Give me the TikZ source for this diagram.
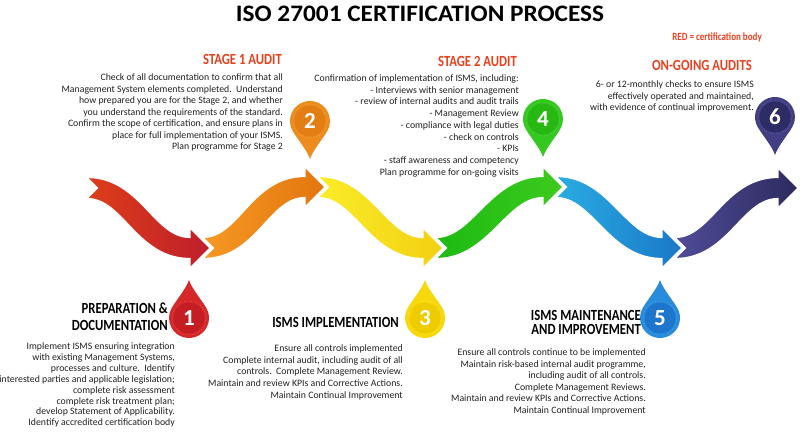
\documentclass[tikz,border=0pt]{standalone}
\usepackage{fontspec}
\usepackage{graphicx}
\setmainfont{Carlito}
\newfontfamily\headfont[FakeStretch=0.82]{Carlito}
\usetikzlibrary{calc}
\definecolor{headred}{RGB}{232,65,30}
\definecolor{bodygray}{RGB}{34,34,34}
\definecolor{aL1}{RGB}{222,62,26}\definecolor{aR1}{RGB}{190,30,42}
\definecolor{aL2}{RGB}{246,152,36}\definecolor{aR2}{RGB}{226,118,14}
\definecolor{aL3}{RGB}{250,236,40}\definecolor{aR3}{RGB}{242,208,18}
\definecolor{aL4}{RGB}{28,186,18}\definecolor{aR4}{RGB}{62,202,30}
\definecolor{aL5}{RGB}{42,172,226}\definecolor{aR5}{RGB}{26,120,200}
\definecolor{aL6}{RGB}{80,76,152}\definecolor{aR6}{RGB}{44,42,94}
\definecolor{pO1}{RGB}{214,40,40}\definecolor{pI1}{RGB}{196,30,36}
\definecolor{pO2}{RGB}{236,140,30}\definecolor{pI2}{RGB}{226,126,20}
\definecolor{pO3}{RGB}{246,216,12}\definecolor{pI3}{RGB}{238,204,0}
\definecolor{pO4}{RGB}{52,200,32}\definecolor{pI4}{RGB}{40,184,20}
\definecolor{pO5}{RGB}{40,140,220}\definecolor{pI5}{RGB}{30,118,204}
\definecolor{pO6}{RGB}{66,62,132}\definecolor{pI6}{RGB}{46,44,100}
% S-shaped arrow: name, tail x, tail y, head-base x, head-base y, left colour, right colour
\newcommand{\sarrow}[7]{%
  \coordinate (#1P1) at ({#2+45},#3);
  \coordinate (#1P2) at ({#4-45},#5);
  \coordinate (#1T0) at (#2,{#3-10.5});
  \coordinate (#1Ta) at ({#2+45},{#3-10.5});
  \coordinate (#1T3) at (#4,{#5-10.5});
  \coordinate (#1Tb) at ({#4-45},{#5-10.5});
  \coordinate (#1B0) at (#2,{#3+10.5});
  \coordinate (#1Ba) at ({#2+45},{#3+10.5});
  \coordinate (#1B3) at (#4,{#5+10.5});
  \coordinate (#1Bb) at ({#4-45},{#5+10.5});
  \coordinate (#1mta) at ($(#1P1)!10.5pt!90:(#1P2)$);
  \coordinate (#1mtb) at ($(#1P2)!10.5pt!-90:(#1P1)$);
  \coordinate (#1mba) at ($(#1P1)!10.5pt!-90:(#1P2)$);
  \coordinate (#1mbb) at ($(#1P2)!10.5pt!90:(#1P1)$);
  \coordinate (#1T1) at (intersection cs: first line={(#1T0)--(#1Ta)}, second line={(#1mta)--(#1mtb)});
  \coordinate (#1T2) at (intersection cs: first line={(#1T3)--(#1Tb)}, second line={(#1mta)--(#1mtb)});
  \coordinate (#1B1) at (intersection cs: first line={(#1B0)--(#1Ba)}, second line={(#1mba)--(#1mbb)});
  \coordinate (#1B2) at (intersection cs: first line={(#1B3)--(#1Bb)}, second line={(#1mba)--(#1mbb)});
  \path[left color=#6,right color=#7,draw=white,line width=1.2pt,line join=miter]
    (#1T0) .. controls (#1T1) and (#1T2) .. (#1T3) -- (#4,{#5-20}) -- ({#4+20},#5)
    -- (#4,{#5+20}) -- (#1B3) .. controls (#1B2) and (#1B1) .. (#1B0) -- ({#2+10.5},#3) -- cycle;
}
\newcommand{\pinpath}{(0,-38) .. controls (3,-29) and (12,-19) .. (-30:20)
  arc[start angle=-30,end angle=210,radius=20] .. controls (-12,-19) and (-3,-29) .. (0,-38) -- cycle}
% pin: name, x, y, rotation, outer, inner, number
\newcommand{\droppin}[7]{%
  \fill[#5,shift={(#2,#3)},rotate=#4] \pinpath;
  \fill[#6] (#2,#3) circle[radius=15.5];
  \draw[white,opacity=0.35,line width=0.5pt,dotted] (#2,#3) circle[radius=17];
  \node[pinnum] (#1) at (#2,#3) {#7};
}
\tikzset{
  pinnum/.style={text=white,font=\fontsize{23}{23}\selectfont\bfseries,inner sep=0pt},
  bodytxt/.style={font=\fontsize{9.8}{11.5}\selectfont,text=bodygray,align=right,inner sep=0pt,anchor=north east},
  stagehead/.style={font=\headfont\fontsize{15.5}{17}\selectfont\bfseries,text=headred,inner sep=0pt,anchor=east},
  blackhead/.style={font=\headfont\fontsize{15.5}{17}\selectfont\bfseries,text=black,inner sep=0pt,align=right}
}
\begin{document}
\begin{tikzpicture}[x=1pt,y=-1pt]
\useasboundingbox (0,0) rectangle (800,435);
\fill[white] (0,0) rectangle (800,435);
% title
\node[inner sep=0pt] (title) at (420,14) {\resizebox{368pt}{15.5pt}{\headfont\bfseries ISO 27001 CERTIFICATION PROCESS}};
\node[font=\headfont\fontsize{11}{12}\selectfont\bfseries,text=headred,inner sep=0pt,anchor=east] (legend) at (762,38) {RED = certification body};
% arrows
\sarrow{a}{87}{188}{190}{248}{aL1}{aR1}
\sarrow{b}{203}{248}{305}{187}{aL2}{aR2}
\sarrow{c}{318}{187}{423}{248}{aL3}{aR3}
\sarrow{d}{436}{248}{543}{187}{aL4}{aR4}
\sarrow{e}{556}{187}{662}{248}{aL5}{aR5}
\sarrow{f}{675}{248}{778}{188}{aL6}{aR6}
% pins
\droppin{p1}{189}{318}{0}{pO1}{pI1}{1}
\droppin{p2}{310}{121}{180}{pO2}{pI2}{2}
\droppin{p3}{425}{318}{0}{pO3}{pI3}{3}
\droppin{p4}{543}{119}{180}{pO4}{pI4}{4}
\droppin{p5}{660}{318}{0}{pO5}{pI5}{5}
\droppin{p6}{775}{117}{180}{pO6}{pI6}{6}
% stage 1
\node[stagehead] (h2) at (282,59) {STAGE 1 AUDIT};
\node[bodytxt] (t2) at (283,73.5) {Check of all documentation to confirm that all\\
Management System elements completed.\ \ Understand\\
how prepared you are for the Stage 2, and whether\\
you understand the requirements of the standard.\\
Confirm the scope of certification, and ensure plans in\\
place for full implementation of your ISMS.\\
Plan programme for Stage 2};
% stage 2
\node[stagehead] (h4) at (517,61) {STAGE 2 AUDIT};
\node[bodytxt,font=\fontsize{9.8}{11.7}\selectfont] (t4) at (519,74.5) {Confirmation of implementation of ISMS, including:\\
- Interviews with senior management\ \\
- review of internal audits and audit trails\\
- Management Review\ \\
- compliance with legal duties\\
- check on controls\\
- KPIs\\
- staff awareness and competency\\
Plan programme for on-going visits};
% on-going
\node[stagehead] (h6) at (752,65) {ON-GOING AUDITS};
\node[bodytxt] (t6) at (754,80.5) {6- or 12-monthly checks to ensure ISMS\\
effectively operated and maintained,\\
with evidence of continual improvement.};
% preparation
\node[blackhead,anchor=north east] (h1) at (168,303) {PREPARATION \&\\DOCUMENTATION};
\node[bodytxt,font=\fontsize{9.8}{10.9}\selectfont] (t1) at (175,342.5) {Implement ISMS ensuring integration\\
with existing Management Systems,\\
processes and culture.\ \ Identify\\
interested parties and applicable legislation;\\
complete risk assessment\\
complete risk treatment plan;\\
develop Statement of Applicability.\\
Identify accredited certification body};
% implementation
\node[blackhead,anchor=east] (h3) at (399,322) {ISMS IMPLEMENTATION};
\node[bodytxt,font=\fontsize{9.8}{11.7}\selectfont] (t3) at (403,344.5) {Ensure all controls implemented\\
Complete internal audit, including audit of all\\
controls.\ \ Complete Management Review.\\
Maintain and review KPIs and Corrective Actions.\\
Maintain Continual Improvement};
% maintenance
\node[blackhead,anchor=north east,font=\headfont\fontsize{15.5}{14.5}\selectfont\bfseries] (h5) at (641,310) {ISMS MAINTENANCE\\AND IMPROVEMENT};
\node[bodytxt,font=\fontsize{9.8}{11.6}\selectfont] (t5) at (646,348.5) {Ensure all controls continue to be implemented\\
Maintain risk-based internal audit programme,\\
including audit of all controls.\\
Complete Management Reviews.\\
Maintain and review KPIs and Corrective Actions.\\
Maintain Continual Improvement};
\end{tikzpicture}
\end{document}
